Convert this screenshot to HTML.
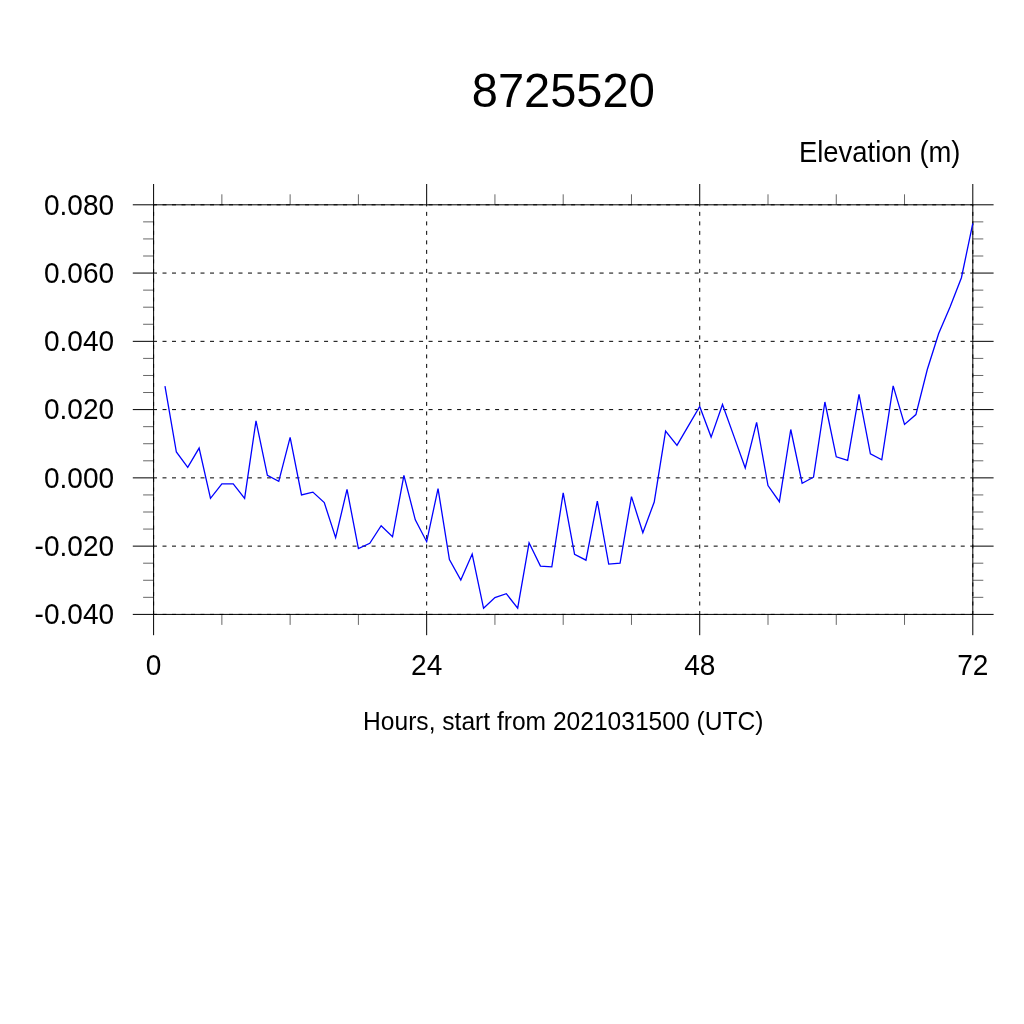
<!DOCTYPE html>
<html><head><meta charset="utf-8"><title>8725520</title>
<style>
html,body{margin:0;padding:0;background:#fff;}
body{width:1024px;height:1024px;overflow:hidden;}
svg{display:block;font-family:"Liberation Sans",sans-serif;fill:#000;}
</style></head><body>
<svg width="1024" height="1024" viewBox="0 0 1024 1024">
<rect width="1024" height="1024" fill="#fff"/>
<g stroke="#000" stroke-width="1" stroke-dasharray="4 5.503" stroke-dashoffset="0.6" fill="none"><line x1="153.6" y1="204.80" x2="972.8" y2="204.80"/><line x1="153.6" y1="273.07" x2="972.8" y2="273.07"/><line x1="153.6" y1="341.33" x2="972.8" y2="341.33"/><line x1="153.6" y1="409.60" x2="972.8" y2="409.60"/><line x1="153.6" y1="477.87" x2="972.8" y2="477.87"/><line x1="153.6" y1="546.13" x2="972.8" y2="546.13"/><line x1="153.6" y1="614.40" x2="972.8" y2="614.40"/><line x1="153.60" y1="614.4" x2="153.60" y2="204.8"/><line x1="426.67" y1="614.4" x2="426.67" y2="204.8"/><line x1="699.73" y1="614.4" x2="699.73" y2="204.8"/><line x1="972.80" y1="614.4" x2="972.80" y2="204.8"/></g>
<rect x="153.6" y="204.8" width="819.20" height="409.60" fill="none" stroke="#000" stroke-width="1"/>
<g stroke="#000" stroke-width="1"><line x1="132.80" y1="204.80" x2="153.6" y2="204.80"/><line x1="972.8" y1="204.80" x2="993.60" y2="204.80"/><line x1="132.80" y1="273.07" x2="153.6" y2="273.07"/><line x1="972.8" y1="273.07" x2="993.60" y2="273.07"/><line x1="132.80" y1="341.33" x2="153.6" y2="341.33"/><line x1="972.8" y1="341.33" x2="993.60" y2="341.33"/><line x1="132.80" y1="409.60" x2="153.6" y2="409.60"/><line x1="972.8" y1="409.60" x2="993.60" y2="409.60"/><line x1="132.80" y1="477.87" x2="153.6" y2="477.87"/><line x1="972.8" y1="477.87" x2="993.60" y2="477.87"/><line x1="132.80" y1="546.13" x2="153.6" y2="546.13"/><line x1="972.8" y1="546.13" x2="993.60" y2="546.13"/><line x1="132.80" y1="614.40" x2="153.6" y2="614.40"/><line x1="972.8" y1="614.40" x2="993.60" y2="614.40"/><line x1="153.60" y1="184.00" x2="153.60" y2="204.8"/><line x1="153.60" y1="614.4" x2="153.60" y2="635.20"/><line x1="426.67" y1="184.00" x2="426.67" y2="204.8"/><line x1="426.67" y1="614.4" x2="426.67" y2="635.20"/><line x1="699.73" y1="184.00" x2="699.73" y2="204.8"/><line x1="699.73" y1="614.4" x2="699.73" y2="635.20"/><line x1="972.80" y1="184.00" x2="972.80" y2="204.8"/><line x1="972.80" y1="614.4" x2="972.80" y2="635.20"/></g>
<g stroke="#000" stroke-width="0.6"><line x1="143.10" y1="221.87" x2="153.6" y2="221.87"/><line x1="972.8" y1="221.87" x2="983.30" y2="221.87"/><line x1="143.10" y1="238.93" x2="153.6" y2="238.93"/><line x1="972.8" y1="238.93" x2="983.30" y2="238.93"/><line x1="143.10" y1="256.00" x2="153.6" y2="256.00"/><line x1="972.8" y1="256.00" x2="983.30" y2="256.00"/><line x1="143.10" y1="290.13" x2="153.6" y2="290.13"/><line x1="972.8" y1="290.13" x2="983.30" y2="290.13"/><line x1="143.10" y1="307.20" x2="153.6" y2="307.20"/><line x1="972.8" y1="307.20" x2="983.30" y2="307.20"/><line x1="143.10" y1="324.27" x2="153.6" y2="324.27"/><line x1="972.8" y1="324.27" x2="983.30" y2="324.27"/><line x1="143.10" y1="358.40" x2="153.6" y2="358.40"/><line x1="972.8" y1="358.40" x2="983.30" y2="358.40"/><line x1="143.10" y1="375.47" x2="153.6" y2="375.47"/><line x1="972.8" y1="375.47" x2="983.30" y2="375.47"/><line x1="143.10" y1="392.53" x2="153.6" y2="392.53"/><line x1="972.8" y1="392.53" x2="983.30" y2="392.53"/><line x1="143.10" y1="426.67" x2="153.6" y2="426.67"/><line x1="972.8" y1="426.67" x2="983.30" y2="426.67"/><line x1="143.10" y1="443.73" x2="153.6" y2="443.73"/><line x1="972.8" y1="443.73" x2="983.30" y2="443.73"/><line x1="143.10" y1="460.80" x2="153.6" y2="460.80"/><line x1="972.8" y1="460.80" x2="983.30" y2="460.80"/><line x1="143.10" y1="494.93" x2="153.6" y2="494.93"/><line x1="972.8" y1="494.93" x2="983.30" y2="494.93"/><line x1="143.10" y1="512.00" x2="153.6" y2="512.00"/><line x1="972.8" y1="512.00" x2="983.30" y2="512.00"/><line x1="143.10" y1="529.07" x2="153.6" y2="529.07"/><line x1="972.8" y1="529.07" x2="983.30" y2="529.07"/><line x1="143.10" y1="563.20" x2="153.6" y2="563.20"/><line x1="972.8" y1="563.20" x2="983.30" y2="563.20"/><line x1="143.10" y1="580.27" x2="153.6" y2="580.27"/><line x1="972.8" y1="580.27" x2="983.30" y2="580.27"/><line x1="143.10" y1="597.33" x2="153.6" y2="597.33"/><line x1="972.8" y1="597.33" x2="983.30" y2="597.33"/><line x1="221.87" y1="194.30" x2="221.87" y2="204.8"/><line x1="221.87" y1="614.4" x2="221.87" y2="624.90"/><line x1="290.13" y1="194.30" x2="290.13" y2="204.8"/><line x1="290.13" y1="614.4" x2="290.13" y2="624.90"/><line x1="358.40" y1="194.30" x2="358.40" y2="204.8"/><line x1="358.40" y1="614.4" x2="358.40" y2="624.90"/><line x1="494.93" y1="194.30" x2="494.93" y2="204.8"/><line x1="494.93" y1="614.4" x2="494.93" y2="624.90"/><line x1="563.20" y1="194.30" x2="563.20" y2="204.8"/><line x1="563.20" y1="614.4" x2="563.20" y2="624.90"/><line x1="631.47" y1="194.30" x2="631.47" y2="204.8"/><line x1="631.47" y1="614.4" x2="631.47" y2="624.90"/><line x1="768.00" y1="194.30" x2="768.00" y2="204.8"/><line x1="768.00" y1="614.4" x2="768.00" y2="624.90"/><line x1="836.27" y1="194.30" x2="836.27" y2="204.8"/><line x1="836.27" y1="614.4" x2="836.27" y2="624.90"/><line x1="904.53" y1="194.30" x2="904.53" y2="204.8"/><line x1="904.53" y1="614.4" x2="904.53" y2="624.90"/></g>
<polyline points="164.98,386.2 176.36,452.0 187.73,467.3 199.11,448.1 210.49,498.3 221.87,483.9 233.24,483.9 244.62,498.3 256.00,420.8 267.38,475.3 278.76,481.3 290.13,437.4 301.51,495.0 312.89,492.1 324.27,502.6 335.64,537.7 347.02,489.4 358.40,548.6 369.78,543.3 381.16,525.7 392.53,536.8 403.91,475.3 415.29,519.8 426.67,541.7 438.04,488.6 449.42,559.5 460.80,580.0 472.18,554.0 483.56,608.3 494.93,597.6 506.31,593.7 517.69,608.1 529.07,542.8 540.44,566.1 551.82,566.9 563.20,492.9 574.58,554.4 585.96,560.2 597.33,501.1 608.71,564.1 620.09,563.2 631.47,496.6 642.84,532.7 654.22,502.0 665.60,431.1 676.98,445.4 688.36,425.9 699.73,406.4 711.11,437.1 722.49,404.5 733.87,436.1 745.24,467.9 756.62,422.4 768.00,485.5 779.38,501.7 790.76,429.5 802.13,483.2 813.51,477.2 824.89,402.0 836.27,456.8 847.64,460.4 859.02,394.3 870.40,453.9 881.78,459.8 893.16,385.9 904.53,424.4 915.91,414.6 927.29,369.5 938.67,333.5 950.04,306.9 961.42,277.7 972.80,223.4" fill="none" stroke="#0000ff" stroke-width="1.3" stroke-linejoin="miter"/>
<text transform="translate(563.3,107.1) scale(1,1.037)" text-anchor="middle" font-size="47">8725520</text>
<text transform="translate(960.5,162.05) scale(1,1.05)" text-anchor="end" font-size="27.42">Elevation (m)</text>
<g font-size="28.05"><text transform="translate(114.1,214.65) scale(1,1.075)" text-anchor="end">0.080</text><text transform="translate(114.1,282.92) scale(1,1.075)" text-anchor="end">0.060</text><text transform="translate(114.1,351.18) scale(1,1.075)" text-anchor="end">0.040</text><text transform="translate(114.1,419.45) scale(1,1.075)" text-anchor="end">0.020</text><text transform="translate(114.1,487.72) scale(1,1.075)" text-anchor="end">0.000</text><text transform="translate(114.1,555.98) scale(1,1.075)" text-anchor="end">-0.020</text><text transform="translate(114.1,624.25) scale(1,1.075)" text-anchor="end">-0.040</text><text transform="translate(153.60,675.2) scale(1,1.06)" text-anchor="middle">0</text><text transform="translate(426.67,675.2) scale(1,1.06)" text-anchor="middle">24</text><text transform="translate(699.73,675.2) scale(1,1.06)" text-anchor="middle">48</text><text transform="translate(972.80,675.2) scale(1,1.06)" text-anchor="middle">72</text></g>
<text transform="translate(563.2,729.8) scale(1,1.055)" text-anchor="middle" font-size="24.6">Hours, start from 2021031500 (UTC)</text>
</svg>
</body></html>
